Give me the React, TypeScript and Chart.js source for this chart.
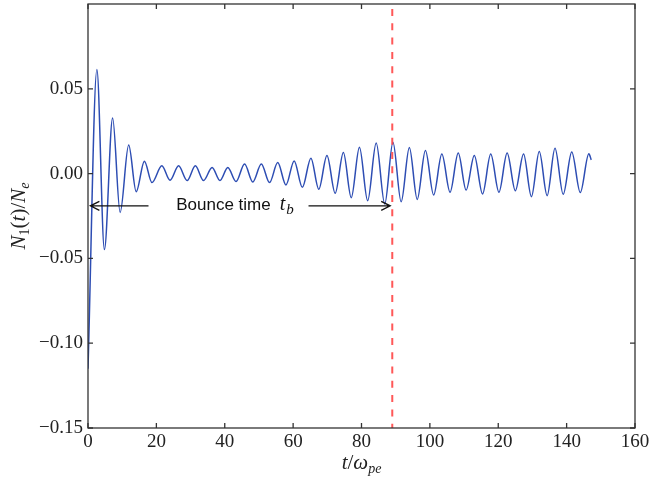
import React, { useEffect, useRef } from "react";
import { Chart, registerables } from "chart.js";

Chart.register(...registerables);

// Time (t / ω_pe) of each extremum of N1(t)/Ne
const times = [
  0, 2.6, 4.8, 7.2, 9.4, 11.9, 14.1, 16.5, 18.7, 21.6, 24.0, 26.5, 29.0, 31.4, 33.8,
  36.3, 38.6, 40.9, 43.3, 45.8, 48.2, 50.7, 53.1, 55.5, 57.9, 60.3, 62.7, 65.2, 67.5,
  69.9, 72.3, 74.7, 77.0, 79.4, 81.8, 84.3, 86.8, 89.2, 91.6, 94.0, 96.3, 98.7, 101.1,
  103.5, 105.9, 108.3, 110.6, 113.0, 115.4, 117.8, 120.2, 122.6, 125.0, 127.4, 129.7,
  132.0, 134.3, 136.6, 139.0, 141.5, 144.0, 146.5, 147.2,
];
// N1(t)/Ne at those times
const values = [
  -0.115, 0.0614, -0.0448, 0.0328, -0.0229, 0.0168, -0.0107, 0.0073, -0.0053, 0.0046,
  -0.0039, 0.0046, -0.0041, 0.0046, -0.0041, 0.0036, -0.0041, 0.0036, -0.0047, 0.0057,
  -0.0049, 0.0057, -0.0053, 0.0065, -0.0067, 0.0075, -0.0081, 0.0091, -0.0092, 0.0107,
  -0.0116, 0.0124, -0.0142, 0.0156, -0.016, 0.018, -0.0179, 0.0185, -0.0166, 0.0154,
  -0.0152, 0.0136, -0.0126, 0.0115, -0.011, 0.0121, -0.0097, 0.0107, -0.012, 0.0115,
  -0.011, 0.0121, -0.0101, 0.0115, -0.0136, 0.013, -0.013, 0.015, -0.0122, 0.0127,
  -0.0112, 0.0117, 0.0081,
];

const xTicks = [0, 20, 40, 60, 80, 100, 120, 140, 160];
const yTicks = [-0.15, -0.1, -0.05, 0.0, 0.05];

// Annotation (data units)
const bounceT = 89;
const arrowY = -0.019;
const leftArrow = [17.7, 0.7];
const rightArrow = [64.5, 88.4];
const labelT = 25.8;
const labelY = -0.0215;

const SERIF = "'Liberation Serif', 'DejaVu Serif', serif";
const SANS = "'Liberation Sans', Arial, sans-serif";
const INK = "#222";

type Run = { t: string; font: string; dy?: number; gap?: number };

function drawRuns(ctx: CanvasRenderingContext2D, runs: Run[], x: number, y: number, align: "center" | "left") {
  let w = 0;
  for (const r of runs) {
    ctx.font = r.font;
    w += ctx.measureText(r.t).width + (r.gap || 0);
  }
  let cx = align === "center" ? x - w / 2 : x;
  ctx.textAlign = "left";
  ctx.textBaseline = "alphabetic";
  for (const r of runs) {
    ctx.font = r.font;
    cx += r.gap || 0;
    ctx.fillText(r.t, cx, y + (r.dy || 0));
    cx += ctx.measureText(r.t).width;
  }
}

function arrow(ctx: CanvasRenderingContext2D, x0: number, x1: number, y: number) {
  ctx.beginPath();
  ctx.moveTo(x0, y);
  ctx.lineTo(x1, y);
  const dir = x1 > x0 ? 1 : -1;
  ctx.moveTo(x1 - dir * 9, y - 4.5);
  ctx.lineTo(x1, y);
  ctx.lineTo(x1 - dir * 9, y + 4.5);
  ctx.stroke();
}

const decor = {
  id: "decor",
  afterDatasetsDraw(chart: any) {
    const ctx: CanvasRenderingContext2D = chart.ctx;
    const { left, right, top, bottom } = chart.chartArea;
    const xs = chart.scales.x;
    const ys = chart.scales.y;
    ctx.save();

    // dashed vertical line
    const bx = xs.getPixelForValue(bounceT);
    ctx.strokeStyle = "rgba(255, 70, 70, 0.9)";
    ctx.lineWidth = 2;
    ctx.setLineDash([7, 7.3]);
    ctx.lineDashOffset = 9.3;
    ctx.beginPath();
    ctx.moveTo(bx, top);
    ctx.lineTo(bx, bottom);
    ctx.stroke();
    ctx.setLineDash([]);

    // arrows
    const ay = ys.getPixelForValue(arrowY);
    ctx.strokeStyle = "#111";
    ctx.lineWidth = 1.3;
    arrow(ctx, xs.getPixelForValue(leftArrow[0]), xs.getPixelForValue(leftArrow[1]), ay);
    arrow(ctx, xs.getPixelForValue(rightArrow[0]), xs.getPixelForValue(rightArrow[1]), ay);

    // label
    ctx.fillStyle = "#111";
    drawRuns(
      ctx,
      [
        { t: "Bounce time", font: `17px ${SANS}` },
        { t: "t", font: `italic 20px ${SERIF}`, gap: 9 },
        { t: "b", font: `italic 15px ${SERIF}`, dy: 4, gap: 1 },
      ],
      xs.getPixelForValue(labelT),
      ys.getPixelForValue(labelY),
      "left"
    );

    // frame
    ctx.strokeStyle = "#333";
    ctx.lineWidth = 1.3;
    ctx.strokeRect(left, top, right - left, bottom - top);

    // inward ticks
    ctx.beginPath();
    for (const v of xTicks) {
      const px = xs.getPixelForValue(v);
      ctx.moveTo(px, bottom);
      ctx.lineTo(px, bottom - 5);
      ctx.moveTo(px, top);
      ctx.lineTo(px, top + 5);
    }
    for (const v of yTicks) {
      const py = ys.getPixelForValue(v);
      ctx.moveTo(left, py);
      ctx.lineTo(left + 5, py);
      ctx.moveTo(right, py);
      ctx.lineTo(right - 5, py);
    }
    ctx.stroke();

    // axis titles
    ctx.fillStyle = INK;
    drawRuns(
      ctx,
      [
        { t: "t", font: `italic 21px ${SERIF}` },
        { t: "/", font: `21px ${SERIF}` },
        { t: "ω", font: `italic 21px ${SERIF}` },
        { t: "pe", font: `italic 14px ${SERIF}`, dy: 4 },
      ],
      (left + right) / 2,
      469,
      "center"
    );
    ctx.save();
    ctx.translate(25, (top + bottom) / 2);
    ctx.rotate(-Math.PI / 2);
    drawRuns(
      ctx,
      [
        { t: "N", font: `italic 21px ${SERIF}` },
        { t: "1", font: `14px ${SERIF}`, dy: 4 },
        { t: "(", font: `21px ${SERIF}` },
        { t: "t", font: `italic 21px ${SERIF}` },
        { t: ")/", font: `21px ${SERIF}` },
        { t: "N", font: `italic 21px ${SERIF}` },
        { t: "e", font: `italic 14px ${SERIF}`, dy: 4 },
      ],
      0,
      0,
      "center"
    );
    ctx.restore();

    ctx.restore();
  },
};

export default function App() {
  const ref = useRef<HTMLCanvasElement | null>(null);
  useEffect(() => {
    document.body.style.margin = "0";
    const canvas = ref.current;
    if (!canvas) return;
    const chart = new Chart(canvas, {
      type: "line",
      data: {
        datasets: [
          {
            data: times.map((t, i) => ({ x: t, y: values[i] })),
            borderColor: "#2d4db3",
            borderWidth: 1.5,
            pointRadius: 0,
            cubicInterpolationMode: "monotone",
            fill: false,
          },
        ],
      },
      options: {
        animation: false,
        responsive: false,
        maintainAspectRatio: false,
        layout: { padding: { left: 0, top: 4, right: 14, bottom: 0 } },
        plugins: { legend: { display: false }, tooltip: { enabled: false } },
        scales: {
          x: {
            type: "linear",
            min: 0,
            max: 160,
            afterBuildTicks: (s: any) => {
              s.ticks = xTicks.map((v) => ({ value: v }));
            },
            afterFit: (s: any) => {
              s.height = 53;
              s.paddingLeft = 0;
              s.paddingRight = 0;
            },
            grid: { display: false, drawTicks: false },
            border: { display: false },
            ticks: {
              padding: 3,
              color: INK,
              font: { family: SERIF, size: 19 },
              maxRotation: 0,
              autoSkip: false,
              callback: (v: any) => String(v),
            },
          },
          y: {
            type: "linear",
            min: -0.15,
            max: 0.1,
            afterBuildTicks: (s: any) => {
              s.ticks = yTicks.map((v) => ({ value: v }));
            },
            afterFit: (s: any) => {
              s.width = 88;
              s.paddingTop = 0;
              s.paddingBottom = 0;
            },
            grid: { display: false, drawTicks: false },
            border: { display: false },
            ticks: {
              padding: 5,
              color: INK,
              font: { family: SERIF, size: 19 },
              autoSkip: false,
              callback: (v: any) => Number(v).toFixed(2).replace("-", "\u2212"),
            },
          },
        },
      },
      plugins: [decor],
    } as any);
    return () => chart.destroy();
  }, []);
  return <canvas ref={ref} width={649} height={481} style={{ display: "block" }} />;
}
